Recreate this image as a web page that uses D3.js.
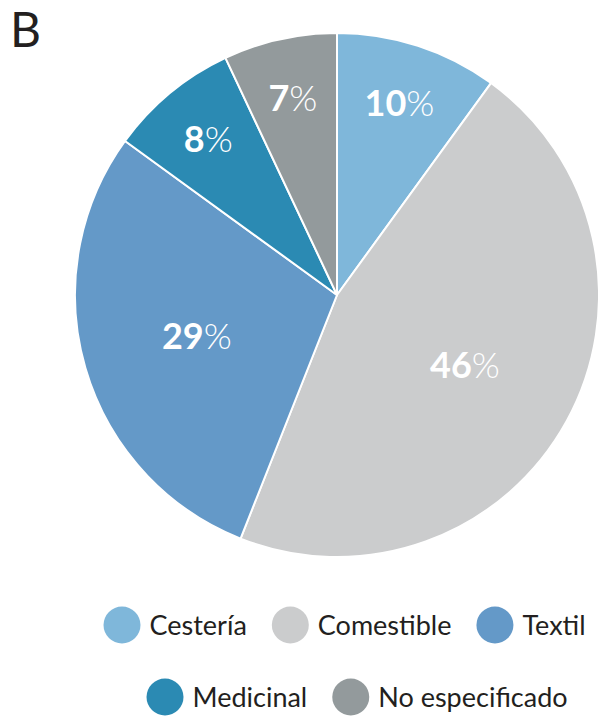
<!DOCTYPE html>
<html><head><meta charset="utf-8">
<script src="https://cdn.jsdelivr.net/npm/d3@7"></script>
<style>html,body{margin:0;padding:0;background:#fff;}svg{display:block;}</style>
</head><body>
<svg id="c" width="598" height="718"></svg>
<script>
const categories = ["Cestería", "Comestible", "Textil", "Medicinal", "No especificado"];
const values = [10, 46, 29, 8, 7];
const colors = ["#7fb7da", "#cbcccd", "#6499c8", "#2b8ab3", "#939a9c"];
const legendRows = [["Cestería", "Comestible", "Textil"], ["Medicinal", "No especificado"]];

const svg = d3.select("#c");
const font = "Lato, 'Open Sans', sans-serif";
const cx = 337, cy = 295, R = 262;

svg.append("text").attr("x", 10).attr("y", 47).attr("font-family", font)
  .attr("font-size", 48).attr("fill", "#231f20").text("B");

const data = categories.map((c, i) => ({cat: c, value: values[i], color: colors[i]}));
const pie = d3.pie().value(d => d.value).sort(null);
const arcs = pie(data);
const arc = d3.arc().innerRadius(0).outerRadius(R);
const g = svg.append("g").attr("transform", `translate(${cx},${cy})`);
g.selectAll("path").data(arcs).join("path")
  .attr("d", arc).attr("fill", d => d.data.color)
  .attr("stroke", "#fff").attr("stroke-width", 2).attr("stroke-linejoin", "round");

const labelArc = d => {
  const r = d.data.value < 15 ? 202 : 146;
  return d3.arc().innerRadius(r).outerRadius(r).centroid(d);
};
const lab = g.selectAll("text.lab").data(arcs).join("text").attr("class", "lab")
  .attr("font-family", font).attr("fill", "#fff").attr("text-anchor", "middle")
  .attr("font-size", 36)
  .attr("transform", d => { const [x, y] = labelArc(d); return `translate(${x},${y + 13})`; });
lab.append("tspan").attr("font-weight", 700).text(d => d.data.value);
lab.append("tspan").attr("font-weight", 300).text("%");

const rowY = [625, 697];
const rowX = [103.5, 146.5];
legendRows.forEach((row, ri) => {
  let x = rowX[ri];
  row.forEach(name => {
    const i = categories.indexOf(name);
    svg.append("circle").attr("cx", x + 18.5).attr("cy", rowY[ri]).attr("r", 18.5).attr("fill", colors[i]);
    const t = svg.append("text").attr("x", x + 46).attr("y", rowY[ri] + 10)
      .attr("font-family", font).attr("font-size", 27).attr("fill", "#231f20").text(name);
    x = x + 46 + t.node().getComputedTextLength() + 25;
  });
});
</script>
</body></html>
